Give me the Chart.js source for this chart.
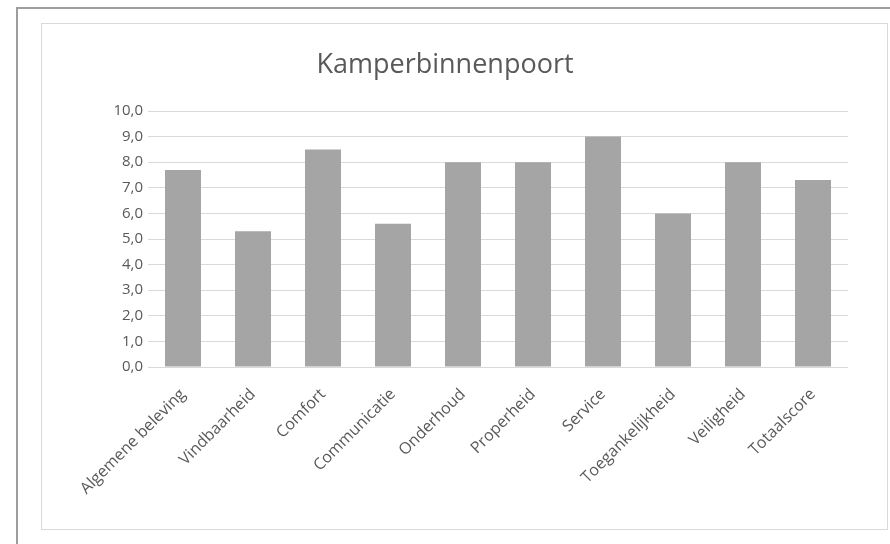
<!DOCTYPE html>
<html lang="nl">
  <head>
    <meta charset="UTF-8" />
    <title>Kamperbinnenpoort</title>
  </head>
  <style>
    * {
      margin: 0;
      padding: 0;
      font-family: "Open Sans", sans-serif;
    }
    body {
      width: 890px;
      height: 544px;
      overflow: hidden;
      background: #fff;
      position: relative;
    }
    .frame {
      position: absolute;
      left: 16px;
      top: 7px;
      width: 900px;
      height: 560px;
      border: 2px solid #9d9d9d;
    }
    .chartBox {
      position: absolute;
      left: 41px;
      top: 23px;
      width: 845px;
      height: 505px;
      border: 1px solid #d9d9d9;
      background: #fff;
    }
  </style>
  <body>
    <div class="frame"></div>
    <div class="chartBox">
      <canvas id="myChart"></canvas>
    </div>

    <script src="https://cdn.jsdelivr.net/npm/chart.js"></script>

    <script>
      // data block
      const categories = [
        "Algemene beleving",
        "Vindbaarheid",
        "Comfort",
        "Communicatie",
        "Onderhoud",
        "Properheid",
        "Service",
        "Toegankelijkheid",
        "Veiligheid",
        "Totaalscore"
      ];
      const scores = [7.7, 5.3, 8.5, 5.6, 8.0, 8.0, 9.0, 6.0, 8.0, 7.3];
      const yTicks = [0, 1, 2, 3, 4, 5, 6, 7, 8, 9, 10];

      const textColor = "#595959";

      // config block
      const config = {
        type: "bar",
        data: {
          labels: categories,
          datasets: [
            {
              label: "Kamperbinnenpoort",
              data: scores,
              backgroundColor: "#a5a5a5",
              borderWidth: 0,
              barPercentage: 36 / 70,
              categoryPercentage: 1
            }
          ]
        },
        options: {
          responsive: true,
          maintainAspectRatio: false,
          animation: false,
          layout: {
            padding: { left: 0, right: 39, top: 0, bottom: 0 }
          },
          plugins: {
            legend: { display: false },
            tooltip: { enabled: false },
            title: {
              display: true,
              text: "Kamperbinnenpoort",
              color: textColor,
              font: { family: "Open Sans", size: 27, weight: "normal" },
              padding: { top: 25, bottom: 29.6 }
            }
          },
          scales: {
            x: {
              grid: { display: false },
              border: { display: false },
              afterFit: (scale) => {
                scale.height = 162;
              },
              ticks: {
                color: textColor,
                font: { family: "Open Sans", size: 16 },
                minRotation: 45,
                maxRotation: 45,
                autoSkip: false,
                padding: 10
              }
            },
            y: {
              min: yTicks[0],
              max: yTicks[yTicks.length - 1],
              afterFit: (scale) => {
                scale.width = 106;
              },
              afterBuildTicks: (scale) => {
                scale.ticks = yTicks.map((v) => ({ value: v }));
              },
              grid: {
                color: "#d9d9d9",
                lineWidth: 1,
                drawTicks: false
              },
              border: { display: false },
              ticks: {
                color: textColor,
                font: { family: "Open Sans", size: 15 },
                padding: 5,
                callback: (v) => v.toFixed(1).replace(".", ",")
              }
            }
          }
        }
      };

      // init render block
      const myChart = new Chart(document.getElementById("myChart"), config);
    </script>
  </body>
</html>
